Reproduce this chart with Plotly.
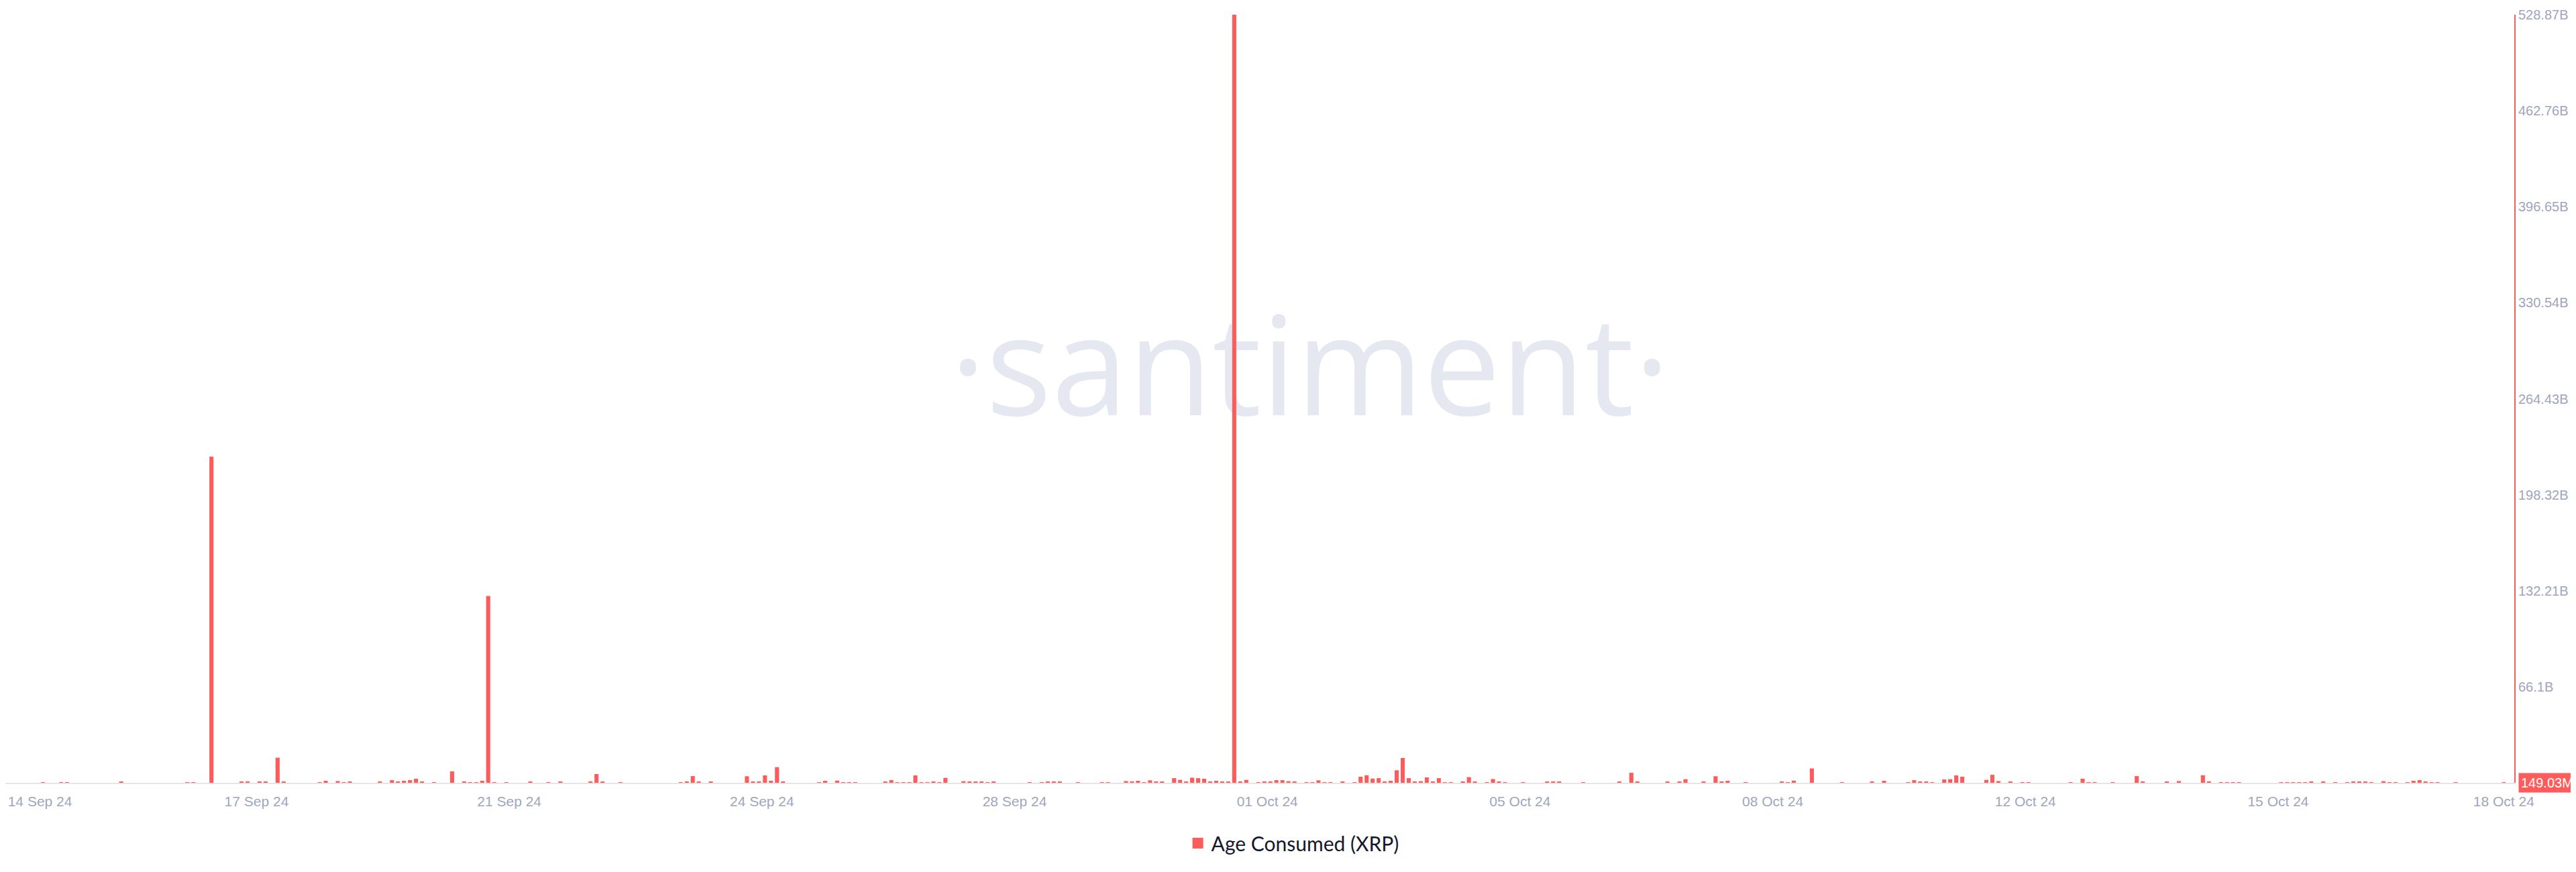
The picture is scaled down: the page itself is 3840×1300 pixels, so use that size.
import pandas as pd
import plotly.graph_objects as go

# ---- data: Age Consumed (XRP), 2-hour intervals, values in billions ----
start_time = "2024-09-14 05:00"
interval = "2h"

week1 = [
    0, 0, 0, 0, 0.2, 0, 0, 0.3, 0.3, 0, 0, 0,
    0, 0, 0, 0, 0, 0.7, 0, 0, 0, 0, 0, 0,
    0, 0, 0, 0, 0.3, 0.3, 0, 0, 224.6, 0, 0, 0,
    0, 0.5, 0.8, 0, 0.5, 0.5, 0, 17.3, 0.8, 0, 0, 0,
    0, 0, 0.3, 1.4, 0, 1.2, 0.4, 0.9, 0, 0, 0, 0,
    0.9, 0, 1.8, 0.5, 1.4, 1.8, 2.8, 0.9, 0, 0.3, 0, 0,
    7.9, 0, 0.5, 0.3, 0.3, 1.4, 128.6, 0.3, 0, 0.4, 0, 0,
]
week2 = [
    0, 0.8, 0, 0, 0.3, 0, 0.8, 0, 0, 0, 0, 0.5,
    6.0, 0.9, 0, 0, 0.2, 0, 0, 0, 0, 0, 0, 0,
    0, 0, 0.4, 0.5, 4.6, 0.9, 0, 0.5, 0, 0, 0, 0,
    0, 4.5, 0.5, 0.8, 5.1, 1.4, 10.8, 0.6, 0, 0, 0, 0,
    0, 0.3, 1.4, 0, 1.5, 0.3, 0.3, 0.3, 0, 0, 0, 0,
    0.5, 1.8, 0.3, 0.3, 0.4, 5.1, 0.4, 0.3, 0.5, 0.3, 3.4, 0,
    0, 1.1, 0.5, 0.5, 0.8, 0.3, 0.9, 0, 0, 0, 0, 0,
]
week3 = [
    0.4, 0, 0.3, 0.5, 0.5, 0.5, 0, 0, 0.2, 0, 0, 0,
    0.3, 0.3, 0, 0, 1.2, 0.8, 1.4, 0.3, 1.7, 0.5, 0.5, 0,
    3.2, 2.0, 0.6, 3.5, 3.2, 2.8, 0.9, 1.4, 0.5, 0.5, 528.87, 0.5,
    2.0, 0, 0.3, 0.8, 0.5, 1.8, 1.8, 1.1, 0.5, 0, 0.3, 0.3,
    1.7, 0.4, 0.3, 0, 0.8, 0, 0.3, 4.2, 5.2, 2.9, 3.2, 0.5,
    1.4, 8.6, 17.1, 3.2, 0.8, 1.1, 3.7, 0.8, 3.2, 0.3, 0.3, 0,
    0.5, 3.9, 0.5, 0, 0.4, 2.6, 0.5, 0.3, 0, 0, 0.2, 0,
]
week4 = [
    0, 0, 0.8, 0.5, 0.5, 0, 0, 0, 0.4, 0, 0, 0,
    0, 0, 0.5, 0, 6.9, 0.8, 0, 0, 0, 0, 0.5, 0,
    0.9, 2.5, 0, 0, 0.5, 0, 4.5, 0.9, 1.4, 0, 0, 0.3,
    0, 0, 0, 0, 0, 0.6, 0.4, 1.5, 0, 0, 9.9, 0,
    0, 0, 0, 0.2, 0, 0, 0, 0, 0.9, 0, 1.4, 0,
    0, 0, 0.3, 1.8, 0.6, 0.5, 0.3, 0, 2.3, 2.5, 5.1, 4.2,
    0, 0, 0, 2.0, 5.5, 1.2, 0, 0.5, 0, 0.3, 0.3, 0,
]
week5 = [
    0, 0, 0, 0, 0, 0.3, 0, 2.8, 0.4, 0.4, 0, 0,
    0.3, 0, 0, 0, 4.6, 0.5, 0, 0, 0, 0.5, 0, 1.2,
    0, 0, 0, 5.2, 0.5, 0, 0.4, 0.4, 0.4, 0.4, 0, 0,
    0, 0, 0, 0, 0.4, 0.4, 0.4, 0.4, 0.3, 0.8, 0, 0.5,
    0, 0.3, 0, 0.4, 0.8, 0.8, 0.5, 0.4, 0, 1.1, 0.3, 0.4,
    0, 0.3, 1.4, 1.8, 0.5, 0.3, 0.4, 0, 0, 0.4, 0, 0,
    0, 0, 0, 0, 0, 0.14903,
]
age_consumed_b = week1 + week2 + week3 + week4 + week5

x_tick_dates = ["2024-09-14 12:00", "2024-09-17 12:00", "2024-09-21 00:00",
                "2024-09-24 12:00", "2024-09-28 00:00", "2024-10-01 12:00",
                "2024-10-05 00:00", "2024-10-08 12:00", "2024-10-12 00:00",
                "2024-10-15 12:00", "2024-10-18 15:00"]
x_tick_labels = ["14 Sep 24", "17 Sep 24", "21 Sep 24", "24 Sep 24", "28 Sep 24",
                 "01 Oct 24", "05 Oct 24", "08 Oct 24", "12 Oct 24", "15 Oct 24",
                 "18 Oct 24"]
y_tick_vals = [66.1, 132.21, 198.32, 264.43, 330.54, 396.65, 462.76, 528.87]
y_tick_labels = ["66.1B", "132.21B", "198.32B", "264.43B", "330.54B",
                 "396.65B", "462.76B", "528.87B"]
series_name = "Age Consumed (XRP)"

# ---- styling ----
RED = "#FF5B5B"
AXIS_RED = "#EE5F5F"
TICK_GREY = "#9EA5BE"
BASE_GREY = "#E5E6EB"
WATERMARK = "#E5E8F0"

times = pd.date_range(start_time, periods=len(age_consumed_b), freq=interval)

fig = go.Figure()
fig.add_trace(go.Bar(
    x=times, y=age_consumed_b, name=series_name,
    marker=dict(color=RED, line=dict(width=0)),
    showlegend=False,
))
fig.add_trace(go.Scatter(
    x=[None], y=[None], mode="markers", name=series_name,
    marker=dict(symbol="square", size=18, color=RED),
))

last_val = age_consumed_b[-1]
badge = f"{last_val * 1000:.2f}M"

fig.update_layout(
    width=3840, height=1300,
    margin=dict(l=0, r=100, t=14, b=141),
    paper_bgcolor="white", plot_bgcolor="white",
    bargap=0.32,
    font=dict(family="Liberation Sans, Arial, sans-serif", size=20, color=TICK_GREY),
    xaxis=dict(
        type="date",
        range=[times[0] - pd.Timedelta(hours=4.5), times[-1] + pd.Timedelta(hours=3.5)],
        tickvals=x_tick_dates, ticktext=x_tick_labels,
        showgrid=False, zeroline=False,
        showline=True, linecolor=BASE_GREY, linewidth=2,
        ticks="", ticklabelstandoff=8,
        tickfont=dict(family="Liberation Sans, Arial, sans-serif", size=21, color=TICK_GREY),
    ),
    yaxis=dict(
        side="right",
        range=[0, 528.87],
        tickvals=y_tick_vals, ticktext=y_tick_labels,
        showgrid=False, zeroline=False,
        showline=True, linecolor=AXIS_RED, linewidth=2,
        ticks="", ticklabelstandoff=0,
        tickfont=dict(family="Liberation Sans, Arial, sans-serif", size=20, color=TICK_GREY),
    ),
    legend=dict(
        orientation="h", x=0.5134, xanchor="center",
        y=-0.0786, yanchor="middle",
        font=dict(family="Lato, Inter, sans-serif", size=30, color="#15172B"),
        bgcolor="rgba(0,0,0,0)",
    ),
    annotations=[dict(
        x=1, xref="paper", xanchor="left", xshift=6,
        y=last_val, yref="y", yanchor="middle",
        text=badge, showarrow=False,
        bgcolor=RED, borderpad=3,
        font=dict(family="Liberation Sans, Arial, sans-serif", size=20, color="white"),
    )],
    shapes=[dict(
        type="rect", xref="paper", yref="paper",
        x0=0.32, x1=0.72, y0=0.436, y1=0.636,
        line=dict(width=0), fillcolor="rgba(0,0,0,0)", layer="below",
        label=dict(
            text="·santiment·", textposition="middle center",
            font=dict(family="Open Sans, sans-serif", size=205, weight=400,
                      color=WATERMARK),
        ),
    )],
)

fig.write_html("out.html")
